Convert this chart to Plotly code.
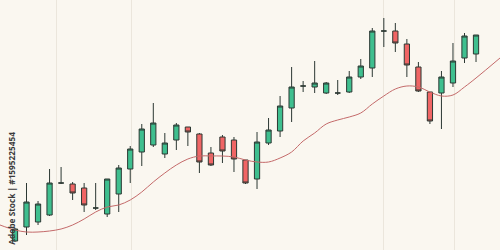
import plotly.graph_objects as go

# OHLC values (arbitrary price units) per session
opens  = [9, 23, 28, 35, 67, 66, 62, 42, 36, 56, 81, 98, 105, 96, 110, 123, 116, 97, 113, 110,
          90, 71, 107, 119, 142, 164, 163, 157, 157, 158, 173, 182, 219, 219, 206, 183, 158, 157, 167, 192, 196]
closes = [21, 48, 46, 67, 67, 57, 45, 42, 71, 82, 101, 121, 127, 107, 125, 118, 88, 85, 99, 91,
          67, 108, 120, 144, 163, 164, 167, 167, 157, 173, 184, 219, 219, 207, 185, 159, 129, 173, 189, 214, 215]
highs  = [22, 67, 49, 81, 83, 68, 67, 67, 71, 85, 104, 126, 147, 117, 127, 123, 117, 103, 115, 113,
          90, 118, 132, 154, 183, 169, 189, 168, 170, 179, 191, 222, 232, 227, 211, 188, 158, 179, 207, 217, 215]
lows   = [8, 15, 25, 34, 66, 50, 38, 40, 33, 38, 67, 84, 103, 92, 100, 104, 77, 84, 87, 78,
          66, 61, 105, 113, 128, 158, 157, 156, 155, 157, 171, 173, 203, 198, 173, 158, 126, 121, 163, 187, 188]
sessions = list(range(len(opens)))

# moving average (extends to both edges)
ma_x = [-1.3, 0, 1, 2, 3, 4, 5, 6, 7, 8, 9, 10, 11, 12, 13, 14, 15, 16, 17, 18, 19, 20,
        21, 22, 23, 24, 25, 26, 27, 28, 29, 30, 31, 32, 33, 34, 35, 36, 37, 38, 39, 40, 42.08]
ma_y = [25, 20, 18, 18, 19, 21, 25, 31, 38, 43, 45, 50, 58, 68, 77, 85, 91, 94, 94, 94, 93, 90,
        88, 88, 92, 98, 109, 117, 126, 130, 133, 137, 146, 154, 161, 164, 163, 158, 154, 155, 163, 172, 192]

grid_x = [3.64, 10.07, 31.93, 38.09]

fig = go.Figure()
fig.add_trace(go.Scatter(x=ma_x, y=ma_y, mode="lines", line=dict(color="#c46a6a", width=1, shape="spline"),
                         hoverinfo="skip", showlegend=False))
fig.add_trace(go.Candlestick(
    x=sessions, open=opens, high=highs, low=lows, close=closes,
    increasing=dict(line=dict(color="#2c3833", width=1), fillcolor="#3fbf8f"),
    decreasing=dict(line=dict(color="#2c3833", width=1), fillcolor="#f06565"),
    showlegend=False))

fig.add_annotation(text="<b>Adobe Stock | #1595225454</b>", xref="paper", yref="paper",
                   x=0.024, y=0.245, xanchor="center", yanchor="middle", textangle=-90, showarrow=False,
                   font=dict(family="Open Sans, DejaVu Sans, sans-serif", size=8.3, color="#3a3a3a"))

fig.update_layout(
    width=500, height=250, margin=dict(l=0, r=0, t=0, b=0),
    paper_bgcolor="#faf7f0", plot_bgcolor="#faf7f0", boxgap=0.35,
    xaxis=dict(range=[-1.3, 42.08], tickvals=grid_x, showticklabels=False, showgrid=True,
               gridcolor="#ebe6dc", gridwidth=1, zeroline=False, rangeslider=dict(visible=False),
               showline=False, ticks=""),
    yaxis=dict(range=[0, 250], showgrid=False, showticklabels=False, zeroline=False, ticks=""),
)
fig.write_html("out.html")
